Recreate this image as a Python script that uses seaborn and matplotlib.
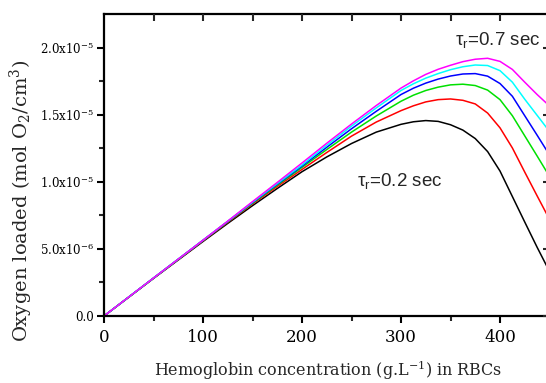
import numpy as np
import pandas as pd
import matplotlib
matplotlib.use("Agg")
import matplotlib.pyplot as plt
import seaborn as sns
from matplotlib.ticker import MultipleLocator, FixedLocator, FixedFormatter

# ---- data (oxygen loaded in units of 1e-5 mol O2/cm3) ----
hb = [0, 50, 100, 125, 150, 175, 200, 225, 250, 275, 300, 312.5, 325, 337.5,
      350, 362.5, 375, 387.5, 400, 412.5, 425, 437.5, 450]
tau_labels = ["0.2", "0.3", "0.4", "0.5", "0.6", "0.7"]
o2_tau02 = [0, .280, .555, .690, .822, .950, 1.075, 1.185, 1.285, 1.370, 1.428, 1.447,
            1.456, 1.450, 1.425, 1.385, 1.322, 1.225, 1.080, 0.890, 0.700, 0.512, 0.332]
o2_tau03 = [0, .281, .560, .698, .835, .965, 1.092, 1.218, 1.340, 1.445, 1.530, 1.566,
            1.595, 1.612, 1.617, 1.607, 1.580, 1.512, 1.402, 1.252, 1.072, 0.895, 0.720]
o2_tau04 = [0, .282, .563, .702, .840, .975, 1.107, 1.240, 1.370, 1.490, 1.600, 1.645,
            1.680, 1.705, 1.722, 1.727, 1.717, 1.683, 1.612, 1.492, 1.342, 1.192, 1.040]
o2_tau05 = [0, .283, .564, .704, .845, .982, 1.117, 1.257, 1.395, 1.525, 1.650, 1.697,
            1.735, 1.765, 1.788, 1.803, 1.806, 1.787, 1.732, 1.637, 1.492, 1.347, 1.200]
o2_tau06 = [0, .283, .565, .706, .848, .987, 1.125, 1.272, 1.415, 1.550, 1.680, 1.730,
            1.772, 1.806, 1.835, 1.857, 1.870, 1.866, 1.828, 1.742, 1.615, 1.495, 1.375]
o2_tau07 = [0, .283, .565, .707, .852, .995, 1.140, 1.287, 1.430, 1.568, 1.698, 1.752,
            1.800, 1.838, 1.868, 1.895, 1.913, 1.920, 1.897, 1.837, 1.742, 1.650, 1.565]
series = [o2_tau02, o2_tau03, o2_tau04, o2_tau05, o2_tau06, o2_tau07]
colors = ["#000000", "#ff0000", "#00e000", "#0000ff", "#00ffff", "#ff00ff"]

ytick_vals = [0, 0.5e-5, 1.0e-5, 1.5e-5, 2.0e-5]
ytick_minor = [0.25e-5, 0.75e-5, 1.25e-5, 1.75e-5]
ytick_labels = ["0.0", r"5.0x10$^{-6}$", r"1.0x10$^{-5}$", r"1.5x10$^{-5}$", r"2.0x10$^{-5}$"]
xtick_vals = [0, 100, 200, 300, 400]

rows = []
for t, s in zip(tau_labels, series):
    for x, y in zip(hb, s):
        rows.append({"hb": x, "o2": y * 1e-5, "tau": t})
df = pd.DataFrame(rows)

sns.set_style("white")
plt.rcParams["font.family"] = ["DejaVu Serif"]
plt.rcParams["mathtext.fontset"] = "custom"
plt.rcParams["mathtext.rm"] = "DejaVu Serif"
plt.rcParams["mathtext.it"] = "DejaVu Serif:italic"
plt.rcParams["mathtext.sf"] = "Liberation Sans"

fig = plt.figure(figsize=(5.46, 3.83), dpi=100)
ax = fig.add_axes([104 / 546, 67 / 383, 445.5 / 546, 302 / 383])

sns.lineplot(data=df, x="hb", y="o2", hue="tau", hue_order=tau_labels,
             palette=colors, legend=False, linewidth=1.1, ax=ax)

ax.set_xlim(0, 450)
ax.set_ylim(0, 2.25e-5)

for sp in ax.spines.values():
    sp.set_linewidth(1.6)
    sp.set_color("black")

ax.xaxis.set_major_locator(FixedLocator(xtick_vals))
ax.xaxis.set_minor_locator(MultipleLocator(50))
ax.yaxis.set_major_locator(FixedLocator(ytick_vals))
ax.yaxis.set_major_formatter(FixedFormatter(ytick_labels))
ax.yaxis.set_minor_locator(FixedLocator(ytick_minor))
ax.tick_params(axis="x", which="major", direction="out", length=5, width=1.5,
               labelsize=12, pad=4, colors="black")
ax.tick_params(axis="x", which="minor", direction="out", length=3.5, width=1.5)
ax.tick_params(axis="y", which="major", direction="out", length=5, width=1.5,
               labelsize=8.5, pad=2, colors="black")
ax.tick_params(axis="y", which="minor", direction="out", length=3.5, width=1.5)
ax.tick_params(bottom=True, left=True, top=False, right=False)

# mirrored ticks (inward) on top and right
axt = ax.twiny()
axt.set_xlim(0, 450)
axt.xaxis.set_major_locator(FixedLocator([50, 100, 150, 200, 250, 300, 350, 400]))
axt.tick_params(axis="x", direction="in", length=5, width=1.5, labeltop=False, top=True)
axr = ax.twinx()
axr.set_ylim(0, 2.25e-5)
axr.yaxis.set_major_locator(FixedLocator(ytick_vals))
axr.yaxis.set_minor_locator(FixedLocator(ytick_minor))
axr.tick_params(axis="y", which="major", direction="in", length=5, width=1.5, labelright=False, right=True)
axr.tick_params(axis="y", which="minor", direction="in", length=3, width=1.5, labelright=False, right=True)
for a in (axt, axr):
    for sp in a.spines.values():
        sp.set_visible(False)
    a.grid(False)

ax.set_xlabel(r"Hemoglobin concentration (g.L$^{-1}$) in RBCs", fontsize=11.5)
ax.set_ylabel(r"Oxygen loaded (mol O$_2$/cm$^3$)", fontsize=14)
ax.xaxis.set_label_coords(0.503, -0.142)
ax.yaxis.set_label_coords(-0.155, 0.38)

ax.text(354.5, 2.02e-5, r"τ$_\mathsf{r}$=0.7 sec", fontfamily="Liberation Sans",
        fontsize=13.5, va="baseline", ha="left")
ax.text(255.5, 0.97e-5, r"τ$_\mathsf{r}$=0.2 sec", fontfamily="Liberation Sans",
        fontsize=13.5, va="baseline", ha="left")

fig.savefig("out.png", dpi=100)
